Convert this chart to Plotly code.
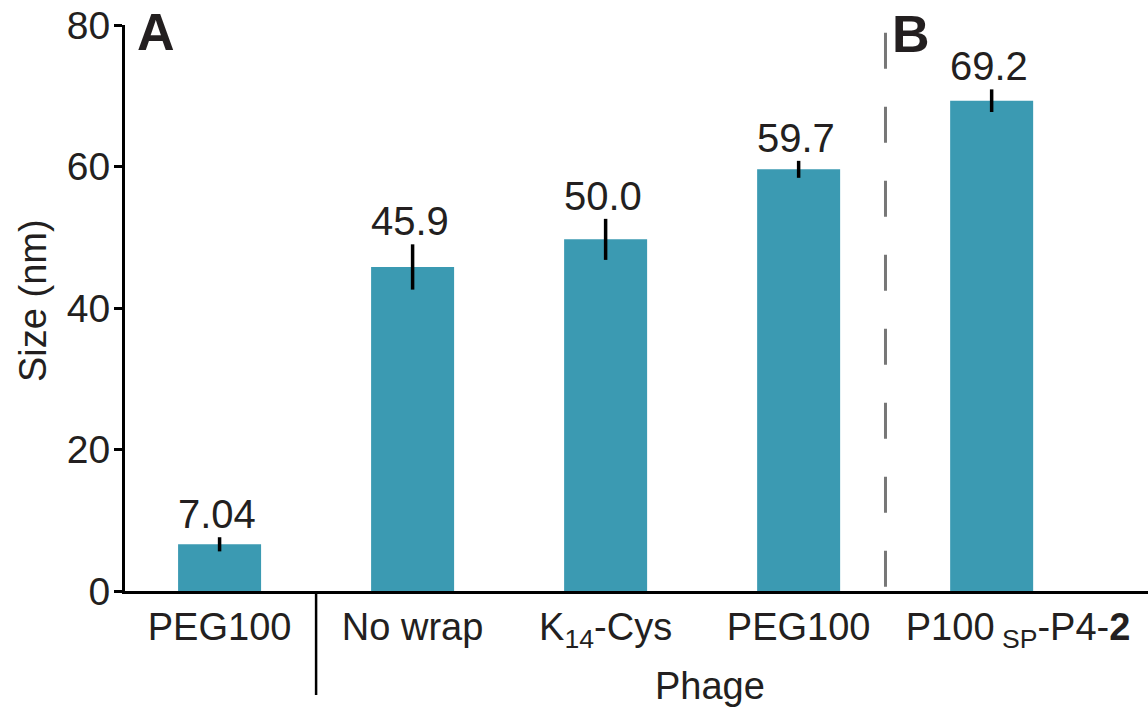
import plotly.graph_objects as go

categories = ["PEG100", "No wrap", "K<sub>14</sub>-Cys", "PEG100",
              "&nbsp;&nbsp;&nbsp;&nbsp;&nbsp;P100<sub> SP</sub>-P4-<b>2</b>"]
positions = [0, 1, 2, 3, 4]
sizes = [6.6, 45.8, 49.7, 59.6, 69.3]
errors = [1.0, 3.2, 2.9, 1.2, 1.6]
value_labels = ["7.04", "45.9", "50.0", "59.7", "69.2"]
y_ticks = [0, 20, 40, 60, 80]

BAR = "#3B9AB2"
TXT = "#231F20"
FONT = "Liberation Sans, Arial, sans-serif"

fig = go.Figure()
fig.add_trace(go.Bar(
    x=positions, y=sizes, width=0.43,
    marker=dict(color=BAR, line=dict(width=0)),
    error_y=dict(type="data", array=errors, visible=True, color="black", thickness=3.5, width=0),
    hoverinfo="skip",
))

for p, v, e, t in zip(positions, sizes, errors, value_labels):
    fig.add_annotation(x=p, y=v + e, text=t, showarrow=False, xanchor="center", yanchor="bottom",
                       xshift=-3, yshift=-1, font=dict(size=40, color=TXT, family=FONT))

# panel letters
fig.add_annotation(x=(156 - 125) / 1023, y=1.0, xref="paper", yref="paper", text="<b>A</b>",
                   showarrow=False, xanchor="center", yanchor="top", yshift=24,
                   font=dict(size=52, color=TXT, family=FONT))
fig.add_annotation(x=(911 - 125) / 1023, y=1.0, xref="paper", yref="paper", text="<b>B</b>",
                   showarrow=False, xanchor="center", yanchor="top", yshift=22,
                   font=dict(size=52, color=TXT, family=FONT))

# axis titles
fig.add_annotation(x=(710 - 125) / 1023, y=(591 - 686) / 566, xref="paper", yref="paper", text="Phage",
                   showarrow=False, xanchor="center", yanchor="middle",
                   font=dict(size=38, color=TXT, family=FONT))
fig.add_annotation(x=(33 - 125) / 1023, y=(591 - 301) / 566, xref="paper", yref="paper", text="Size (nm)",
                   showarrow=False, xanchor="center", yanchor="middle", textangle=-90,
                   font=dict(size=38, color=TXT, family=FONT))

# separators
fig.add_shape(type="line", xref="x", yref="paper", x0=0.5, x1=0.5, y0=0, y1=-(695 - 591) / 566,
              line=dict(color="black", width=2.5))
fig.add_shape(type="line", xref="x", yref="y", x0=3.45, x1=3.45, y0=78.9, y1=0,
              line=dict(color="#777777", width=3, dash="36px,38px"))

fig.update_layout(
    width=1148, height=708,
    margin=dict(l=125, r=0, t=25, b=117),
    paper_bgcolor="white", plot_bgcolor="white",
    showlegend=False,
    font=dict(family=FONT, color=TXT),
    xaxis=dict(range=[-0.49, 4.81], tickvals=positions, ticktext=categories, automargin=False,
               tickangle=0,
               showline=True, linecolor="black", linewidth=3, ticks="", showgrid=False,
               zeroline=False, tickfont=dict(size=38, color=TXT, family=FONT), ticklabelstandoff=0),
    yaxis=dict(range=[0, 80], tickvals=y_ticks, showline=True, linecolor="black", linewidth=3,
               automargin=False,
               ticks="outside", ticklen=8, tickwidth=3, tickcolor="black", showgrid=False,
               zeroline=False, tickfont=dict(size=39, color=TXT, family=FONT), ticklabelstandoff=-4),
)

fig.write_html("out.html", config={"displayModeBar": False},
               post_script="document.body.style.margin='0';document.body.style.overflow='hidden';")
